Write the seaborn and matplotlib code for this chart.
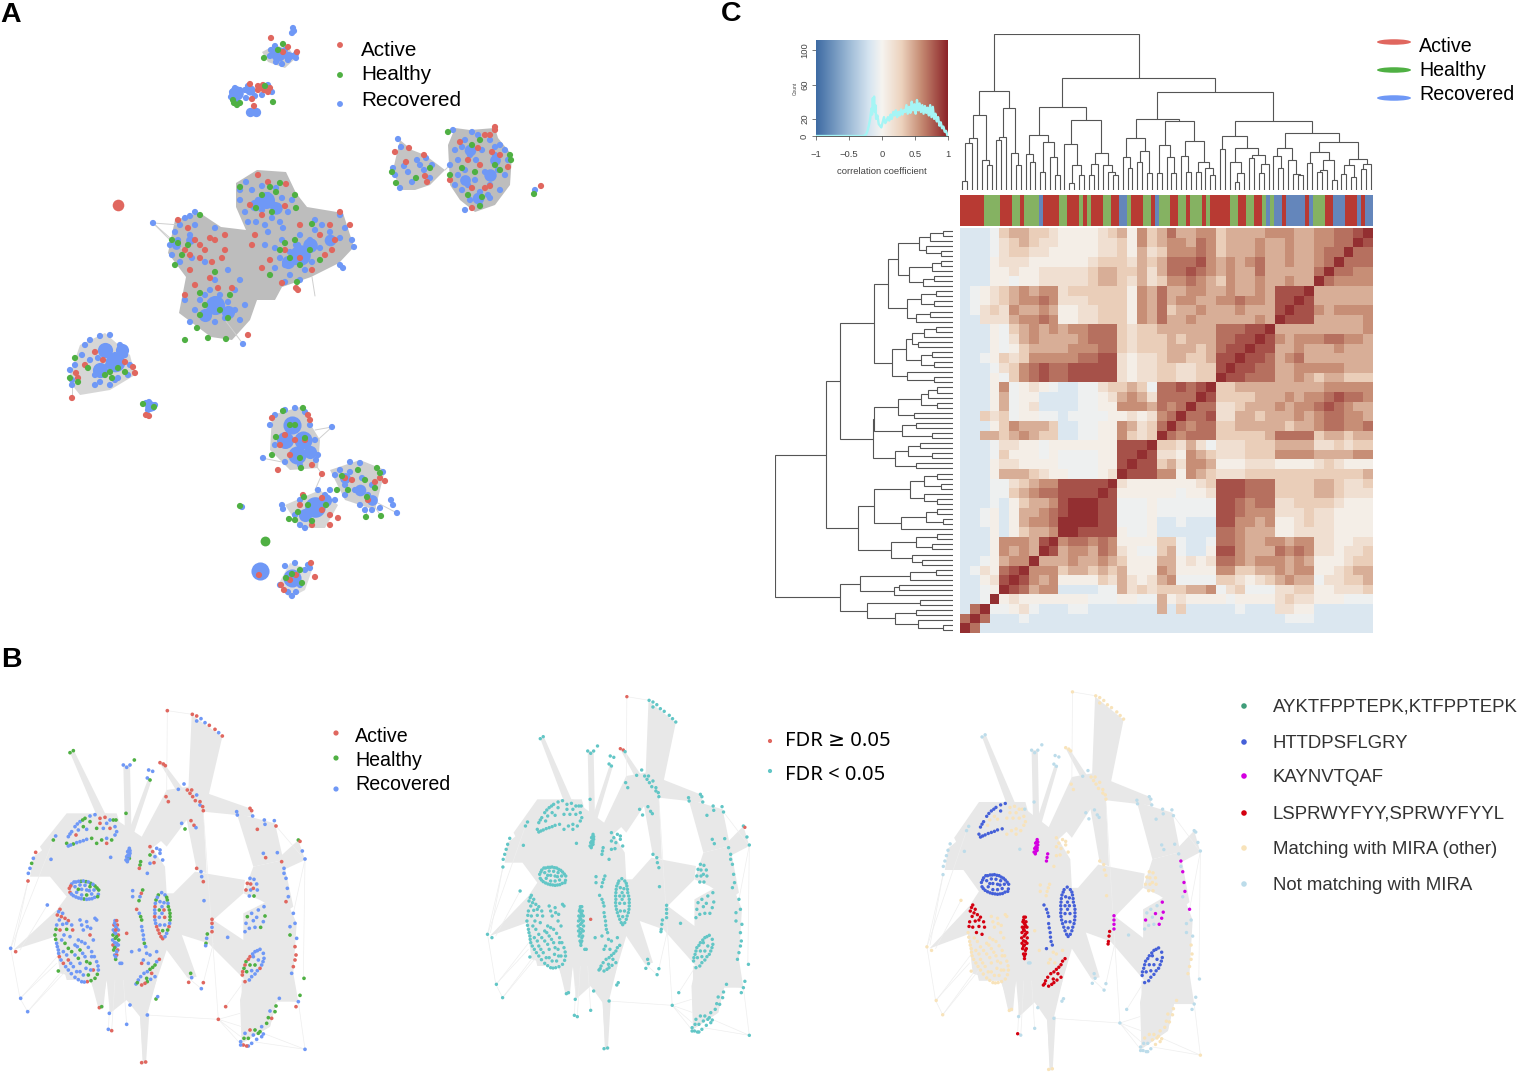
import numpy as np
import pandas as pd
import matplotlib
matplotlib.use("Agg")
import matplotlib.pyplot as plt
from matplotlib.colors import LinearSegmentedColormap, ListedColormap
from matplotlib.patches import Ellipse
import seaborn as sns

W, H = 1519, 1079

# ---------- panel A: node layout ----------
a_active = """271,38 288,47 297,52 283,52 250,84 258,86 252,99 258,90 264,90 268,92 263,85 270,88 254,106 260,87
541,186 395,152 409,148 424,155 406,162 427,182 425,176
468,160 480,165 492,152 485,135 490,135 495,130 495,127 472,188 485,188 490,186 508,167 472,208 460,142 478,148 450,180 500,155
250,205 262,215 285,206 268,182 286,184 258,175
330,225 335,240 332,250 320,235 270,260 285,250 300,258 312,270 296,288 298,290 340,212 350,225 262,268 255,235 252,245 282,283 325,255 300,225
195,240 200,245 205,250 210,238 215,240 188,228 200,258 212,262 222,258 225,250 225,235 185,250 190,270 178,220 190,255
210,278 218,288 232,288 195,285 185,295 248,335
72,398 76,373 95,352 103,360 125,362 133,367 135,373 78,378 85,365 146,415 149,416
272,418 308,415 310,420 280,445 295,440 290,455 278,470 305,440 285,435 312,465
322,474 345,478 352,480 375,482 380,478 385,481 368,500
303,495 322,498 330,515 338,518 330,525 312,525 300,505 322,510 259,575
311,563 315,577 281,585 284,590 290,580 296,575"""
a_healthy = """264,58 278,50 283,44 234,103 237,105 240,103 233,100 273,102 265,86 534,194
392,172 396,183 430,168 416,178
448,132 480,140 472,145 510,155 511,160 462,168 475,172 495,165 468,195 482,197 450,175 480,206 500,170
240,187 270,187 276,192 280,183 296,208 262,195 256,208 272,212 295,195 285,243 295,240 310,250 300,265 270,275 312,224 320,260 290,258 280,250 297,282
178,243 172,240 182,255 200,215 188,245 175,265 205,305 220,310 228,318 230,295 200,293 185,340 208,338 226,339 215,272 197,328 200,315
75,358 70,378 78,382 88,368 105,375 110,372 112,378 118,368 125,372 143,404 154,407
283,411 303,408 276,437 290,425 305,438 272,455 295,425 300,458 301,468
342,476 348,490 358,470 365,480 375,488 380,473 367,497 377,468 366,517 381,516 337,490
304,497 308,505 326,505 289,519 295,520 312,521 298,512 240,506 292,574 300,570 302,583 286,578"""
a_recovered = """293,28 294,31 292,33 271,50 275,46 270,56 276,62 282,64 288,60 292,56 296,54 280,58 274,54 285,50 296,58
232,92 235,88 238,95 240,90 231,97 245,90 248,86 252,92 246,98 255,96 262,95 272,92 268,85 236,100 535,190
398,139 401,147 393,168 395,175 400,188 404,166 417,160 424,170 430,178 408,172 412,182 426,158 420,165 432,165
455,150 450,165 458,175 462,190 470,200 480,205 490,198 500,190 505,175 508,160 500,145 490,140 478,135 465,140 458,160 465,170 475,180 490,185 498,170 495,155 482,150 470,155 468,185 485,172 462,147 505,150 455,185 480,192 472,132 453,130 465,210 495,147 488,195 476,160
240,200 245,212 252,190 258,200 262,210 268,195 275,205 282,198 272,218 256,222 288,212 280,222 265,225 248,222 262,186 276,188 292,200 240,190 246,182
275,248 282,240 290,252 298,245 305,255 295,262 285,265 300,235 310,240 315,230 322,225 330,232 340,238 352,240 354,247 345,228 320,248 280,258 305,270 290,275 275,268 340,265 343,268 315,220 340,215 312,262 300,280 285,282 296,245 265,245 268,232 283,228
170,245 175,232 180,225 185,218 190,216 195,225 172,255 180,262 192,258 205,262 178,240 195,212 153,223 190,235 215,228
200,300 205,295 212,305 220,295 228,302 235,310 225,318 215,322 205,315 195,310 235,290 228,270 240,280 240,320 190,322 185,300 210,290 245,305 215,280 225,312 243,344
75,365 70,370 72,380 72,385 85,345 90,340 100,336 110,335 120,345 125,355 130,365 128,375 115,380 100,382 95,375 90,360 82,355 105,350 115,355 120,365 108,365 98,358 95,385 118,378 110,385
146,403 149,402 153,408 148,410 155,405
270,425 275,415 285,410 295,408 305,412 310,425 315,440 318,455 300,465 285,462 275,445 332,427 263,458 316,460
335,475 340,470 345,485 350,472 355,490 362,478 368,495 360,505 365,510 372,485 345,495 360,463 350,462 383,472 391,500 393,505 397,513 372,510 380,508
282,505 283,509 295,515 300,525 305,528 325,495 335,500 318,490 330,490 300,500 242,507
285,566 295,563 305,570 308,565 310,568 300,585 288,592 292,596 296,592 280,585"""
# solid lumps where the nodes overlap completely: x, y, area
a_core_x = [236, 250, 267, 250, 256, 278, 288, 115, 105, 100, 122, 150, 292, 285, 303, 297, 310, 315, 305, 325, 345, 360, 372, 292, 260,
            266, 255, 276, 300, 288, 310, 330, 215, 205, 228, 465, 490, 470, 495, 478, 190, 176, 118, 265]
a_core_y = [93, 90, 88, 112, 112, 54, 56, 362, 350, 370, 350, 406, 425, 440, 440, 455, 452, 507, 515, 500, 478, 490, 500, 578, 571,
            200, 205, 208, 255, 262, 245, 240, 305, 315, 312, 180, 175, 150, 160, 198, 240, 245, 205, 541]
a_core_s = [110, 55, 50, 45, 45, 110, 45, 200, 120, 120, 90, 60, 170, 150, 170, 170, 90, 220, 90, 90, 60, 70, 60, 170, 170,
            150, 70, 80, 220, 90, 110, 70, 190, 90, 90, 60, 80, 70, 60, 70, 40, 40, 70, 50]
a_core_g = ["Recovered"] * 42 + ["Active", "Healthy"]

# gray edge masses
a_hulls = [
    "236,183 257,170 286,172 296,193 307,207 343,213 354,247 339,263 311,277 282,287 275,300 257,300 250,320 232,340 211,337 179,313 186,277 168,253 175,220 200,213 221,227 246,230 236,207",
    "448,145 455,128 470,130 495,128 498,138 512,155 510,185 495,205 475,212 460,200 450,185",
    "393,170 400,140 412,150 425,155 445,170 430,185 415,190 400,190",
    "262,52 275,45 290,50 296,58 285,68 268,62",
    "68,380 80,345 105,333 130,355 135,375 110,390 80,395",
    "272,415 300,407 320,440 318,468 290,470 270,450",
    "330,470 360,460 385,470 375,510 345,500",
    "285,505 320,490 338,505 325,528 300,528",
    "278,585 290,563 312,570 305,590 290,598",
]
a_hull_colors = ["#bdbdbd", "#bdbdbd", "#c4c4c4", "#d0d0d0", "#d6d6d6", "#cfcfcf", "#cfcfcf", "#d6d6d6", "#dddddd"]
a_edges = ["153,223 180,225", "153,223 175,245", "153,223 195,260", "332,427 312,445", "332,427 315,430",
           "262,458 282,462", "322,474 312,460", "322,474 315,490", "397,513 372,500", "381,516 370,500",
           "243,344 225,320", "312,277 315,296", "445,170 450,165", "72,398 72,385", "366,517 366,500"]

# ---------- panel B: shared layout, cluster by cluster (u,v,status), first letter = epitope ----------
b_clusters = {
    "H1": "208,625,A 215,612,R 228,606,R 243,604,H 258,605,H 272,610,H 285,618,H 296,630,H 295,643,R 284,652,R 268,657,R 252,657,H 236,654,R 220,647,R 210,637,A 225,620,R 240,615,R 255,616,R 270,620,H 282,630,R 275,642,R 260,645,H 245,645,R 230,637,R 245,628,R 260,630,R 268,632,R 235,628,H 222,606,R 236,604,R 250,603,R 265,606,R 279,613,R 291,624,H 293,650,H 276,656,R 260,658,R 244,656,R 228,651,R 214,642,R 212,618,A",
    "L1": "345,722,R 350,722,A 342,735,A 352,735,A 340,750,R 355,750,R 339,765,H 355,765,A 338,780,R 356,780,H 339,795,A 355,795,R 341,810,H 353,810,A 344,825,R 350,825,A 347,838,H 347,740,R 347,760,R 347,800,R 346,775,H 344,730,R 350,745,R 344,757,R 350,770,H 344,788,R 350,790,R 344,803,H 350,815,R 347,830,R 347,750,A",
    "H2": "485,638,R 475,645,H 495,645,R 468,660,H 502,660,H 465,680,A 505,680,H 465,700,R 510,700,H 465,720,R 510,720,H 470,740,A 507,740,A 478,760,A 500,760,R 488,776,A 480,665,R 492,668,R 478,690,H 492,690,A 478,712,R 494,712,A 480,735,R 494,735,R 488,752,H 486,700,R 472,652,R 500,652,H 466,670,R 504,670,R 464,690,R 508,690,H 464,710,A 510,710,H 467,730,R 509,730,R 474,750,A 503,750,H 483,770,A 495,770,R 486,680,R",
    "L2": "180,688,A 188,700,R 172,705,A 195,715,A 178,720,R 205,722,A 170,735,R 188,733,R 215,735,R 180,750,A 200,748,H 218,750,A 192,765,R 210,770,R 168,748,H 176,695,R 184,710,A 200,730,R",
    "M1": "165,765,H 170,790,R 175,810,R 178,830,A 190,850,A 205,870,R 225,892,R 245,905,R 262,905,A 285,895,H 295,870,R 290,845,R 275,815,R 255,790,R 235,780,R 195,790,H 190,815,R 205,805,H 205,840,A 220,860,R 240,875,R 265,885,H 280,870,A 270,850,H 255,830,R 240,810,H 225,795,R 225,825,R 240,850,R 258,865,R 275,830,R 240,720,R 260,725,R 285,715,R 272,745,R 250,750,R 270,765,A 280,780,R 245,735,R 290,720,R 262,740,R 167,778,H 172,800,R 176,820,R 183,840,R 197,860,R 214,881,R 235,899,R 253,906,R 273,902,H 292,883,H 294,858,R 283,830,R 265,802,R 245,785,R 185,780,R 200,825,R 212,850,R 230,875,R 250,885,R 272,870,R 260,845,H 248,820,R 232,800,R 215,815,H 235,835,H",
    "H3": "200,490,H 205,470,R 215,455,R 225,440,R 240,425,R 255,415,H 270,408,R 285,404,R 205,498,R 220,492,H 240,485,R 260,478,R 275,475,H 270,425,H 210,462,R 232,432,R 248,420,H 212,495,R 230,488,R 250,482,R",
    "M2": "300,415,A 315,412,A 330,420,R 345,440,R 350,455,R 340,420,H 320,430,R 300,430,A 290,445,H 310,445,R 330,445,A 290,490,H 305,480,H 320,490,A 335,480,H 320,475,R 345,465,R 228,465,A 250,440,H 235,450,R 260,448,R",
    "K1": "388,505,R 383,515,R 390,520,R 380,530,R 388,535,H 382,545,R 386,512,R 378,540,R 384,525,R 388,528,R 384,538,R 390,512,R 422,545,H 420,555,H 418,565,A",
    "M3": "450,500,A 458,515,A 470,505,R 480,520,R 488,540,R 465,530,R 450,525,H 462,548,A 450,550,R 480,510,R 442,580,R 428,630,H 424,640,A 420,650,R 417,662,H 398,632,R 398,650,R",
    "H4": "410,688,A 418,700,R 425,720,H 425,740,R 430,765,R 433,790,H 437,800,R 418,810,R 422,710,H 427,752,R 431,778,R",
    "L3": "478,838,A 465,855,H 450,868,H 432,880,R 415,900,R 408,912,R 425,915,A 442,905,H 465,890,R 455,880,A 440,895,H 470,845,R 458,862,H 442,875,R 422,890,R 412,908,H 435,910,A 452,898,R",
    "M4": "440,820,R 425,850,A 450,825,R 470,815,R 395,815,R 430,840,R 445,850,R",
    "M5": "562,330,A 570,340,A 578,350,A 586,362,A 600,375,R 610,392,A 575,330,A 590,345,R 600,365,A 608,380,A 498,350,A 505,365,A",
    "M6": "502,92,A 577,103,A 590,108,A 603,116,R 590,123,R 615,128,R 628,136,A 645,148,A 656,158,R 667,168,A",
    "N1": "210,218,H 220,212,H 370,255,R 380,262,R 390,255,R 403,240,H 446,270,R 458,274,R 442,294,R 450,300,H 552,312,R 535,328,R 378,400,H 348,420,H",
    "M7": "480,248,A 490,252,A 496,257,A",
    "N2": "545,430,R 573,422,A 582,436,A 588,443,R 555,447,H",
    "M8": "590,565,A 603,575,R 605,590,R 610,605,A 612,662,R",
    "K2": "636,718,A 636,730,A 636,742,R 636,755,A",
    "L4": "622,762,H 620,775,R 618,790,H 617,797,R",
    "M9": "750,595,R 762,598,R 770,612,R 772,630,R 762,648,H 748,648,R 738,630,A 742,610,A 752,612,A 752,630,R 760,625,A",
    "K3": "792,680,R 770,712,R 795,708,H 790,725,R 738,730,R 782,742,H",
    "N3": "775,690,R 755,700,R 742,710,H 760,722,R 748,745,R 765,742,R 735,755,R",
    "H5": "780,808,R 765,815,R 790,820,R 750,830,A 792,835,R 738,845,H 785,855,R 732,865,H 772,872,R 727,885,A 755,890,R 735,905,A 748,900,R 760,830,R 775,840,R 750,855,H 765,855,H 740,875,H 755,872,R 772,812,R 758,822,R 745,838,A 735,855,A 728,875,A 765,882,R 780,865,A 789,845,R",
    "K4": "852,565,R 858,595,R 862,625,R 865,650,R 880,700,R",
    "N4": "832,518,R 845,545,A 858,665,A 885,730,R 870,740,R 890,775,R 870,765,H 790,520,R 797,533,A 852,580,R",
    "M10": "885,800,A 888,825,A 885,840,A 880,860,A 875,880,R",
    "N5": "895,480,H 900,484,A 907,513,R 915,537,R 912,895,H 900,946,H 895,965,R 888,980,A 710,395,R 712,405,R 750,385,A 755,392,A 758,408,R 793,420,R 795,433,R 823,422,R 828,438,A 772,448,A",
    "M11": "915,1108,R 838,955,R 828,978,H 825,995,H 810,993,R 815,1015,A 805,1013,H 800,1030,H 785,1040,R 780,1055,H 790,1062,R 765,1050,H 750,1050,A 735,1060,R 770,1078,R 785,1070,R 760,1065,R 775,1060,H",
    "N6": "722,1085,R 730,1095,A 745,1098,R 755,1090,R 745,1075,H 732,1075,H 722,1095,R 740,1098,A",
    "N7": "85,580,R 90,565,R 95,550,H 100,535,R 107,517,A 84,603,A 160,480,H 167,468,R 153,538,R 332,532,R 365,850,R 360,850,R 683,772,R",
    "M12": "142,675,R 32,805,R 47,815,A 62,955,R 83,995,R 175,873,H 380,760,A 298,983,A 305,980,H 425,1148,A 437,1146,A",
    "N8": "328,1000,R 335,1052,A 380,1033,R 390,975,R 442,1005,R 468,957,H 473,950,R 566,907,A 575,893,R 572,880,H 610,908,A 604,926,R 655,1018,A 677,980,A",
    "L5": "325,1048,R",
}
# nodes with FDR >= 0.05 in the middle network
b_not_significant = ["502,92", "380,760", "480,248", "900,484", "490,252"]

b_masses = [
    "100,530 170,480 200,500 320,400 380,440 440,480 495,560 500,640 520,640 585,575 735,600 730,640 640,720 730,780 730,700 850,640 890,730 880,880 850,900 895,965 830,960 810,1040 725,1090 720,960 735,900 625,790 530,760 585,890 560,890 500,810 470,900 440,1010 430,1150 420,1010 380,960 330,1000 320,900 305,985 270,900 180,880 165,770 40,810 170,690 200,650 150,590 90,590",
    "575,105 667,170 625,350 565,330",
    "500,330 565,320 750,385 760,410 610,395 620,580 590,570 560,420 450,510 420,480",
    "210,218 222,212 330,430 300,430",
    "370,255 390,255 395,480 375,470",
    "445,295 455,300 395,480 380,470",
    "480,250 495,255 560,340 540,350",
    "710,400 825,430 850,540 760,560",
    "895,480 915,540 850,570 840,530",
    "460,460 540,330 560,420 500,500",
    "730,640 760,560 850,540 880,680 850,700 780,660",
    "120,500 200,400 350,400 400,560 200,640",
    "320,900 380,960 430,1010 470,900 400,800",
    "165,770 200,900 300,900 300,700",
    "420,1000 448,1000 438,1150 428,1150",
    "270,890 320,890 310,985 295,985",
    "500,790 540,750 590,890 565,895",
    "725,900 880,880 895,965 830,965 810,1040 725,1090",
]
b_edges = ["32,805 160,480", "60,955 170,850", "83,995 180,880", "655,1018 720,1000", "655,1018 720,1090",
           "655,1018 725,1040", "915,1108 790,1060", "915,1108 895,965", "32,805 85,600", "32,805 60,955",
           "655,1018 440,1005", "915,540 910,890", "502,92 500,340", "502,92 577,103", "60,955 83,995",
           "610,400 655,1018", "828,438 915,540", "610,908 640,790", "604,926 560,890", "677,980 735,900",
           "62,955 180,820", "83,995 200,870", "655,1018 722,1070", "915,1108 760,1085", "915,537 880,700",
           "325,1048 330,960", "335,1052 345,900", "380,1033 370,900", "142,675 60,810", "84,603 42,800"]

# ---------- panel C ----------
# correlation levels 0-9, read off in coarse cells; upper-left triangle, top row first
corr_levels = [-0.16, -0.05, 0.05, 0.18, 0.32, 0.45, 0.58, 0.7, 0.82, 0.95]
corr_rows = [
    "0001 4554 43 222234 5264 575566 455556 6655 667789",
    "0001 3454 33 222233 4264 566576 455565 5655 66779",
    "0001 3443 32 222233 4253 466676 455565 5655 6779",
    "0002 3332 22 222344 4354 577786 565675 5655 679",
    "0002 2322 33 333455 4453 577876 565575 5555 79",
    "0002 2122 33 333455 4353 466765 465565 5655 9",
    "0123 4565 66 344444 4265 755665 565565 8889",
    "0123 4566 76 333444 4265 756655 667665 889",
    "0134 3655 65 223344 4265 745565 556555 89",
    "0033 3566 76 223344 4265 755655 555565 9",
    "0002 1456 56 566777 4344 555555 777889",
    "0002 1356 55 556777 4344 454555 77889",
    "0002 1245 55 566677 4344 455545 7889",
    "0012 4346 66 667788 3233 455445 889",
    "0001 3467 87 788888 3233 443344 89",
    "0002 1467 87 788888 3233 443344 9",
    "0002 6123 21 001134 4541 778789",
    "0002 5122 00 001123 5653 77779",
    "0002 5123 00 001122 6665 7679",
    "0043 4122 11 011112 2323 679",
    "0002 4655 54 001122 6534 79",
    "0055 4565 44 001122 6434 9",
    "0001 3322 12 222222 8889",
    "0001 4222 12 111122 889",
    "0002 3322 22 111122 89",
    "0002 5554 32 211123 9",
    "0001 1345 66 888889",
    "0001 1456 77 88889",
    "0001 0245 56 8999",
    "0012 0255 67 899",
    "0012 0256 67 99",
    "0002 0245 56 9",
    "0002 6665 89",
    "0002 65659",
    "0012 5669",
    "0132 789",
    "0023 89",
    "00129",
    "0019",
    "079",
    "79",
    "9",
]
strip_groups = list("RGRGRGBRGRGRGRGRBGRGRBGRGRGRGRGRGRGBGBRBRBGRBRBRB")
strip_runs = [6, 4, 3, 2, 1, 4, 1, 4, 2, 3, 1, 1, 1, 3, 2, 2, 2, 1, 3, 2, 1, 1, 3, 2, 2, 1, 3, 1, 1, 5, 2, 2, 2, 2, 1, 1, 1, 2, 1, 5, 1, 1, 3, 2, 3, 3, 1, 1, 2]

# dendrograms: [height, child, child], 0 is a leaf
top_tree = [468,
    [298,
        [224, [155, [142, [28, 0, 0], 0], 0], [90, 0, [76, 0, 0]]],
        [246, [158, [150, 0, 0], 0], [112, 0, [76, 0, 0]]]],
    [335,
        [250,
            [166, [107, 0, [85, 0, 0]], [143, [55, 0, 0], [100, 0, [45, 0, 0]]]],
            [210, [138, 0, [74, [22, 0, 0], [45, 0, 0]]],
                  [112, [78, [45, 0, 0], 0], [74, 0, [55, 0, [45, 0, 0]]]]]],
        [295,
            [212,
                [155, [98, 0, [65, 0, 0]], [118, [85, 0, 0], [52, 0, 0]]],
                [206, [134, [52, 0, 0], [100, 0, [52, 0, 0]]],
                      [146, [103, 0, [55, 0, 0]], [85, [55, 0, 0], [65, 0, [45, 0, 0]]]]]],
            [206,
                [162, [122, 0, 0], [125, [83, 0, [50, [25, 0, 0], 0]], [105, [95, 0, 0], [77, [50, 0, 0], 0]]]],
                [170,
                    [125, [102, 0, [65, 0, 0]], [90, 0, [48, 0, [45, 0, 0]]]],
                    [145, [115, [82, 0, 0], [90, [60, [55, 0, 0], 0], [30, 0, 0]]],
                          [92, [75, [48, 0, 0], [40, 0, 0]], [78, [62, 0, 0], 0]]]]]]]]

left_tree = [458,
    [328,
        [290,
            [202,
                [166,
                    [142, [88, [60, [25, 0, 0], 0], [70, 0, [30, 0, 0]]], [112, [55, [30, 0, 0], 0], [78, [50, 0, 0], 0]]],
                    [118, [82, [45, 0, 0], [50, 0, 0]], [96, [60, 0, 0], 0]]],
                [156,
                    [120, [105, [75, [45, 0, 0], 0], [90, 0, 0]], [82, [55, 0, 0], [48, 0, 0]]],
                    [118, 0, [50, 0, 0]]]],
            [205,
                [204,
                    [142, [82, [65, [40, 0, 0], 0], [40, 0, 0]], [100, 0, 0]],
                    [130, [95, 0, 0], [55, 0, 0]]],
                [150, [115, [85, 0, 0], [55, 0, 0]], [95, 0, 0]]]],
        [244,
            [204, [110, [75, [40, 0, 0], [30, 0, 0]], [75, 0, [40, 0, 0]]], [134, [70, [40, 0, 0], [25, 0, 0]], 0]],
            [160, [95, [40, 0, 0], [55, 0, 0]], [105, 0, [80, 0, 0]]]]],
    [290,
        [240, [110, [45, 0, 0], 0], [152, [140, 0, 0], 0]],
        [220, [85, 0, 0], [150, [95, 0, 0], [90, 0, [25, 0, 0]]]]]]

hist_points = """-1,0 -0.28,0 -0.24,2 -0.22,6 -0.2,12 -0.18,20 -0.16,32 -0.15,25 -0.14,44 -0.13,30 -0.12,46 -0.11,28 -0.1,36 -0.09,20 -0.07,24 -0.05,14 -0.03,12 -0.01,10 0.01,16 0.03,22 0.05,15 0.07,18 0.09,22 0.11,18 0.13,25 0.15,20 0.17,28 0.19,24 0.21,30 0.23,22 0.25,28 0.27,24 0.29,31 0.31,25 0.33,30 0.35,28 0.37,36 0.39,26 0.41,34 0.43,27 0.45,40 0.47,30 0.49,37 0.51,26 0.53,42 0.55,30 0.57,38 0.59,28 0.61,36 0.63,26 0.65,35 0.67,27 0.69,33 0.71,24 0.73,36 0.75,22 0.77,34 0.79,20 0.81,26 0.83,17 0.85,22 0.87,12 0.89,16 0.91,9 0.93,11 0.95,5 0.97,6 0.99,1 1,0"""

# ---------- colours ----------
status_colors = {"Active": "#e0675f", "Healthy": "#4fb043", "Recovered": "#6f98f6"}
epitope_names = ["AYKTFPPTEPK,KTFPPTEPK", "HTTDPSFLGRY", "KAYNVTQAF", "LSPRWYFYY,SPRWYFYYL",
                 "Matching with MIRA (other)", "Not matching with MIRA"]
epitope_colors = ["#3f9d7a", "#4560d8", "#d400e0", "#d40010", "#f8e3ba", "#bcdcea"]
epitope_code = {"T": 0, "H": 1, "K": 2, "L": 3, "M": 4, "N": 5}
corr_cmap = LinearSegmentedColormap.from_list(
    "corr", [(0, "#3e6ba3"), (0.25, "#9dbad6"), (0.4, "#d5e4f0"), (0.5, "#f6f4f0"), (0.65, "#ecd2bd"), (0.8, "#c58a72"), (1, "#8c2328")])


def pts(text):
    return np.array([[float(v) for v in p.split(",")] for p in text.split()])


def px_axes(fig, left, top, right, bottom, **kw):
    return fig.add_axes([left / W, 1 - bottom / H, (right - left) / W, (bottom - top) / H], **kw)


def scatter(ax, x, y, colors, size, zorder=3):
    df = pd.DataFrame({"x": x, "y": y, "c": colors})
    sns.scatterplot(data=df, x="x", y="y", hue="c", palette={c: c for c in set(colors)},
                    s=size, linewidth=0, legend=False, ax=ax, zorder=zorder, alpha=1)


def tree_segments(node, counter, segs):
    if node == 0:
        counter[0] += 1
        return counter[0] - 0.5, 0
    height, one, two = node
    p1, h1 = tree_segments(one, counter, segs)
    p2, h2 = tree_segments(two, counter, segs)
    segs.append(([p1, p1, p2, p2], [h1, height, height, h2]))
    return (p1 + p2) / 2, height


sns.set_theme(style="white")
plt.rcParams["font.family"] = ["Liberation Sans", "DejaVu Sans"]
fig = plt.figure(figsize=(W / 100, H / 100), dpi=100, facecolor="white")

# whole page layer: panel A, in page pixels
page = px_axes(fig, 0, 0, W, H)
page.set_xlim(0, W)
page.set_ylim(H, 0)
page.axis("off")

for hull, col in zip(a_hulls, a_hull_colors):
    p = pts(hull)
    page.fill(p[:, 0], p[:, 1], color=col, lw=0, zorder=1)
for edge in a_edges:
    p = pts(edge)
    page.plot(p[:, 0], p[:, 1], color="#cfcfcf", lw=0.7, zorder=1)

core_colors = [status_colors[g] for g in a_core_g]
for i in range(len(a_core_x)):
    scatter(page, [a_core_x[i]], [a_core_y[i]], [core_colors[i]], a_core_s[i], zorder=2)
for text, name, z in [(a_recovered, "Recovered", 3), (a_active, "Active", 4), (a_healthy, "Healthy", 5)]:
    p = pts(text)
    scatter(page, p[:, 0], p[:, 1], [status_colors[name]] * len(p), 20, zorder=z)

# panel B: the same layout three times
b_u, b_v, b_status, b_epitope, b_key = [], [], [], [], []
for name, text in b_clusters.items():
    for tok in text.split():
        u, v, s = tok.split(",")
        b_u.append(float(u))
        b_v.append(float(v))
        b_status.append(s)
        b_epitope.append(epitope_code[name[0]])
        b_key.append(u + "," + v)
letters = {"A": "Active", "H": "Healthy", "R": "Recovered"}
left_cols = [status_colors[letters[s]] for s in b_status]
mid_cols = ["#e0675f" if k in b_not_significant else "#62c6c6" for k in b_key]
right_cols = [epitope_colors[e] for e in b_epitope]

for (l, t, r, b, cols, size) in [(0, 680, 480, 1079, left_cols, 7),
                                 (478, 666, 905, 1065, mid_cols, 6),
                                 (917, 659, 1363, 1087, right_cols, 6)]:
    ax = px_axes(fig, l, t, r, b)
    ax.patch.set_alpha(0)
    for mass in b_masses:
        p = pts(mass)
        ax.fill(p[:, 0], p[:, 1], color="#e8e8e8", lw=0, zorder=1)
    for edge in b_edges:
        p = pts(edge)
        ax.plot(p[:, 0], p[:, 1], color="#eeeeee", lw=0.5, zorder=1)
    scatter(ax, b_u, b_v, cols, size)
    ax.set_xlim(0, 1440)
    ax.set_ylim(1197, 0)
    ax.axis("off")

# panel C: heatmap
n = len(corr_rows)
corr = np.zeros((n, n))
for k, row in enumerate(corr_rows):
    i = n - 1 - k
    for j, ch in enumerate(row.replace(" ", "")[:i + 1]):
        corr[i, j] = corr[j, i] = corr_levels[int(ch)]
ax_h = px_axes(fig, 960, 228, 1373, 633)
sns.heatmap(corr[::-1], cmap=corr_cmap, vmin=-1, vmax=1, cbar=False, xticklabels=False, yticklabels=False, ax=ax_h)

strip = np.repeat(["RGB".index(g) for g in strip_groups], strip_runs)
ax_s = px_axes(fig, 960, 195, 1373, 226)
sns.heatmap(strip[np.newaxis, :], cmap=ListedColormap(["#b83a33", "#85b262", "#6486bb"]), vmin=0, vmax=2,
            cbar=False, xticklabels=False, yticklabels=False, ax=ax_s)

ax_t = px_axes(fig, 960, 34, 1373, 190)
segs, counter = [], [0]
tree_segments(top_tree, counter, segs)
for xs, ys in segs:
    ax_t.plot(xs, ys, color="#555555", lw=0.8, solid_joinstyle="miter")
ax_t.set_xlim(0, counter[0])
ax_t.set_ylim(0, 468)
ax_t.axis("off")

ax_l = px_axes(fig, 775, 228, 953, 633)
segs, counter = [], [0]
tree_segments(left_tree, counter, segs)
for ys, xs in segs:
    ax_l.plot(xs, ys, color="#555555", lw=0.8, solid_joinstyle="miter")
ax_l.set_xlim(458, 0)
ax_l.set_ylim(counter[0], 0)
ax_l.axis("off")

# colour key with the count histogram
ax_k = px_axes(fig, 816, 40, 948, 136)
ax_k.imshow(np.linspace(-1, 1, 256)[np.newaxis, :], cmap=corr_cmap, vmin=-1, vmax=1,
            extent=(-1, 1, 0, 112), aspect="auto", zorder=1)
hist = pts(hist_points)
sns.lineplot(x=hist[:, 0], y=hist[:, 1], color="#a5f5f5", lw=1.7, sort=False, estimator=None, ax=ax_k, zorder=2)
ax_k.set_xlim(-1, 1)
ax_k.set_ylim(0, 112)
for s in ["top", "right", "left"]:
    ax_k.spines[s].set_visible(False)
ax_k.spines["bottom"].set_color("#444444")
ax_k.spines["bottom"].set_linewidth(0.6)
ax_k.set_xticks([-1, -0.5, 0, 0.5, 1], ["\u22121", "\u22120.5", "0", "0.5", "1"])
ax_k.set_yticks([0, 20, 60, 100], ["0", "20", "60", "100"])
ax_k.tick_params(axis="x", labelsize=6.8, labelcolor="#444444", color="#444444", length=3, width=0.5, pad=7, bottom=True)
ax_k.tick_params(axis="y", labelsize=6.8, labelcolor="#444444", color="#444444", length=3, width=0.5, pad=2, left=True,
                 labelrotation=90)
for lab in ax_k.get_yticklabels():
    lab.set_verticalalignment("center")
ax_k.set_xlabel("correlation coefficient", fontsize=6.8, color="#444444", labelpad=6)
ax_k.set_ylabel("Count", fontsize=3.5, color="#444444", labelpad=2)

# legends and panel letters on top of everything
top = px_axes(fig, 0, 0, W, H)
top.set_xlim(0, W)
top.set_ylim(H, 0)
top.patch.set_alpha(0)


def legend(x_dot, x_text, ys_dot, ys_text, names, colors, size, dot=18, family=("Liberation Sans", "DejaVu Sans"), color="black"):
    scatter(top, [x_dot] * len(names), ys_dot, colors, dot)
    for yt, name in zip(ys_text, names):
        top.text(x_text, yt, name, fontsize=size, va="center", ha="left", color=color, family=list(family))


status_names = list(status_colors)
status_list = [status_colors[s] for s in status_names]
legend(340, 361, [45, 75, 104], [50, 75, 100], status_names, status_list, 14.9)
legend(336, 355, [733, 758, 789], [736, 760, 784], status_names, status_list, 14.1, dot=14)
legend(770, 785, [741, 771], [741, 775], ["FDR \u2265 0.05", "FDR < 0.05"], ["#e0675f", "#62c6c6"], 14.5, dot=9,
       family=("Noto Sans", "DejaVu Sans"))
legend(1244, 1273, [706, 742, 776, 813, 848, 884], [707, 743, 778, 814, 850, 885], epitope_names, epitope_colors,
       13.4, dot=16, color="#333333")

for y_dot, y_text, name in zip([42, 70, 98], [47, 71, 95], status_names):
    top.add_patch(Ellipse((1394, y_dot), 34, 5.5, color=status_colors[name], lw=0))
    top.text(1419, y_text, name, fontsize=14.1, va="center", ha="left", color="black")

for x, y, label in [(0, 15, "A"), (1, 660, "B"), (721, 14, "C")]:
    top.text(x, y, label, fontsize=20.5, fontweight="bold", va="center", ha="left", color="black")
top.axis("off")

fig.savefig("out.png", dpi=100)
plt.close(fig)
